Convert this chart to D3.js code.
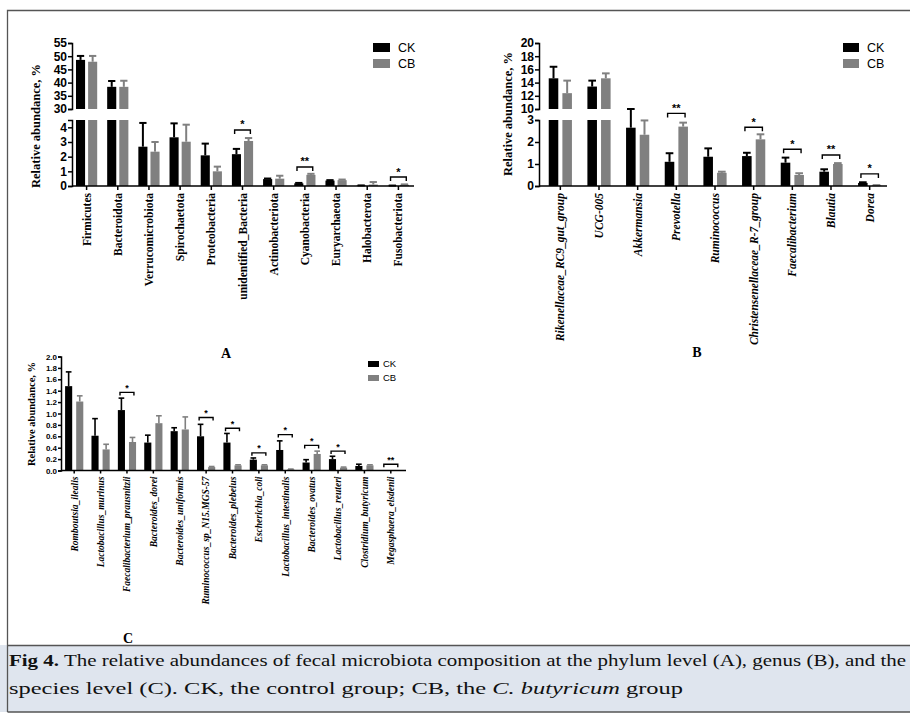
<!DOCTYPE html>
<html>
<head>
<meta charset="utf-8">
<script src="https://cdn.jsdelivr.net/npm/d3@7"></script>
<style>
body{margin:0;background:#fff;}
svg text{font-family:"Liberation Sans",Arial,sans-serif;}
svg text.serif{font-family:"Liberation Serif","Times New Roman",serif;}
</style>
</head>
<body>
<div id="chart"></div>
<script>
// A: phylum level
var phylum = ["Firmicutes","Bacteroidota","Verrucomicrobiota","Spirochaetota","Proteobacteria",
  "unidentified_Bacteria","Actinobacteriota","Cyanobacteria","Euryarchaeota","Halobacterota","Fusobacteriota"];
var phylumCK    = [48.6, 38.4, 2.68, 3.32, 2.09, 2.17, 0.47, 0.18, 0.37, 0.03, 0.02];
var phylumCKErr = [1.5, 2.2, 1.62, 0.95, 0.8, 0.36, 0.04, 0.03, 0.03, 0.01, 0.01];
var phylumCB    = [47.9, 38.4, 2.34, 3.02, 1.0, 3.07, 0.5, 0.76, 0.4, 0.1, 0.08];
var phylumCBErr = [2.2, 2.3, 0.66, 1.16, 0.32, 0.2, 0.2, 0.07, 0.04, 0.17, 0.03];
var phylumSig   = [[5, "*", 3.82], [7, "**", 1.3], [10, "*", 0.61]];

// B: genus level
var genus = ["Rikenellaceae_RC9_gut_group","UCG-005","Akkermansia","Prevotella","Ruminococcus",
  "Christensenellaceae_R-7_group","Faecalibacterium","Blautia","Dorea"];
var genusCK    = [14.65, 13.4, 2.65, 1.1, 1.33, 1.36, 1.06, 0.65, 0.14];
var genusCKErr = [1.75, 0.9, 0.38, 0.39, 0.38, 0.15, 0.23, 0.11, 0.03];
var genusCB    = [12.4, 14.65, 2.33, 2.7, 0.6, 2.12, 0.5, 1.0, 0.03];
var genusCBErr = [1.9, 0.75, 0.65, 0.18, 0.05, 0.23, 0.08, 0.04, 0.01];
var genusSig   = [[3, "**", 3.3], [5, "*", 2.67], [6, "*", 1.67], [7, "**", 1.41], [8, "*", 0.55]];

// C: species level
var species = ["Romboutsia_ilealis","Lactobacillus_murinus","Faecalibacterium_prausnitzii","Bacteroides_dorei",
  "Bacteroides_uniformis","Ruminococcus_sp_N15.MGS-57","Bacteroides_plebeius","Escherichia_coli",
  "Lactobacillus_intestinalis","Bacteroides_ovatus","Lactobacillus_reuteri","Clostridium_butyricum","Megasphaera_elsdenii"];
var speciesCK    = [1.48, 0.61, 1.06, 0.49, 0.69, 0.6, 0.49, 0.19, 0.36, 0.14, 0.2, 0.08, 0.005];
var speciesCKErr = [0.25, 0.3, 0.21, 0.13, 0.06, 0.21, 0.16, 0.03, 0.16, 0.05, 0.05, 0.03, 0];
var speciesCB    = [1.21, 0.37, 0.5, 0.83, 0.72, 0.06, 0.09, 0.09, 0.02, 0.29, 0.05, 0.09, 0.005];
var speciesCBErr = [0.1, 0.09, 0.08, 0.13, 0.22, 0.01, 0.01, 0.01, 0.005, 0.05, 0.01, 0.01, 0];
var speciesSig   = [[2, "*", 1.37], [5, "*", 0.93], [6, "*", 0.74], [7, "*", 0.31], [8, "*", 0.63],
  [9, "*", 0.44], [10, "*", 0.34], [12, "**", 0.11]];

var groups = ["CK","CB"],
    colors = {CK: "#000", CB: "#808080"};

var svg = d3.select("#chart").append("svg")
  .attr("width", 910)
  .attr("height", 720);

svg.append("rect").attr("width", 910).attr("height", 720).attr("fill", "#fff");

// frame + caption box
svg.append("rect")
  .attr("x", 0).attr("y", 645).attr("width", 910).attr("height", 67)
  .attr("fill", "#dfe5ee");
svg.append("path")
  .attr("d", "M7.5,712 V10.5 H912 M7.5,645.5 H912 M7.5,712 H912")
  .attr("fill", "none").attr("stroke", "#555").attr("stroke-width", 1.3);

function panel(o) {
  var g = svg.append("g");
  var x = d3.scaleBand().domain(o.cats).range(o.xr).paddingInner(o.pi).paddingOuter(o.po);
  var xs = d3.scaleBand().domain(groups).range([0, x.bandwidth()]).paddingInner(o.pin);
  var lo = d3.scaleLinear().domain(o.loD).range([o.y0, o.loTop]);
  var up = o.upD ? d3.scaleLinear().domain(o.upD).range([o.upBottom, o.upTop]) : null;
  var loMax = o.loD[1];

  function yOf(v) {
    return (up && v > loMax) ? up(Math.max(v, o.upD[0])) : lo(v);
  }

  // bars + error bars
  groups.forEach(function (s) {
    var vals = o.vals[s], errs = o.errs[s];
    o.cats.forEach(function (c, i) {
      var v = vals[i], e = errs[i],
          bx = x(c) + xs(s), bw = xs.bandwidth(), cx = bx + bw / 2;
      g.append("rect")
        .attr("x", bx).attr("width", bw)
        .attr("y", lo(Math.min(v, loMax)))
        .attr("height", o.y0 - lo(Math.min(v, loMax)))
        .attr("fill", colors[s]);
      if (up && v > loMax) {
        g.append("rect")
          .attr("x", bx).attr("width", bw)
          .attr("y", up(v))
          .attr("height", up(o.upD[0]) - up(v))
          .attr("fill", colors[s]);
      }
      if (e > 0) {
        var yt = yOf(v + e);
        g.append("line")
          .attr("x1", cx).attr("x2", cx)
          .attr("y1", yOf(v)).attr("y2", yt)
          .attr("stroke", colors[s]).attr("stroke-width", o.ew);
        g.append("line")
          .attr("x1", cx - bw * 0.4).attr("x2", cx + bw * 0.4)
          .attr("y1", yt).attr("y2", yt)
          .attr("stroke", colors[s]).attr("stroke-width", o.ew);
      }
    });
  });

  // significance brackets
  o.sig.forEach(function (d) {
    var c = o.cats[d[0]], by = lo(d[2]),
        xa = x(c) + xs("CK") + xs.bandwidth() * 0.3,
        xb = x(c) + xs("CB") + xs.bandwidth() * 0.7;
    g.append("path")
      .attr("d", "M" + xa + "," + (by + o.bt) + "V" + by + "H" + xb + "V" + (by + o.bt))
      .attr("fill", "none").attr("stroke", "#000").attr("stroke-width", 1.4);
    g.append("text")
      .attr("x", (xa + xb) / 2).attr("y", by - 1.5)
      .attr("text-anchor", "middle")
      .style("font-size", o.starSize + "px").style("font-weight", "bold")
      .text(d[1]);
  });

  // y axes
  var yl = g.append("g")
    .attr("transform", "translate(" + o.ax + ",0)")
    .call(d3.axisLeft(lo).tickValues(o.loTicks).tickFormat(o.fmt).tickSize(o.ts).tickSizeOuter(o.ts));
  var yu = null;
  if (up) {
    yu = g.append("g")
      .attr("transform", "translate(" + o.ax + ",0)")
      .call(d3.axisLeft(up).tickValues(o.upTicks).tickFormat(o.fmt).tickSize(o.ts).tickSizeOuter(o.ts));
  }
  [yl, yu].forEach(function (a) {
    if (!a) return;
    a.selectAll("path,line").attr("stroke", "#000").attr("stroke-width", 1.5);
    a.selectAll("text")
      .attr("x", -o.ts - 1)
      .style("font-size", o.tickSize + "px").style("font-weight", "bold")
      .style("font-family", "'Liberation Sans',Arial,sans-serif").attr("fill", "#000");
    a.select(".domain").attr("fill", "none");
  });

  // x axis
  var xa = g.append("g")
    .attr("transform", "translate(0," + o.y0 + ")")
    .call(d3.axisBottom(x).tickSize(o.ts).tickSizeOuter(0));
  xa.select(".domain").remove();
  g.append("line")
    .attr("x1", o.ax).attr("x2", o.xEnd)
    .attr("y1", o.y0).attr("y2", o.y0)
    .attr("stroke", "#000").attr("stroke-width", 1.5);
  xa.selectAll("line").attr("stroke", "#000").attr("stroke-width", 1.5);
  xa.selectAll("text")
    .attr("class", "serif")
    .attr("transform", "rotate(-90)")
    .attr("x", -o.ts - 3).attr("y", 0).attr("dy", "0.35em")
    .attr("text-anchor", "end")
    .attr("fill", "#000")
    .style("font-weight", "bold")
    .style("font-style", o.italic ? "italic" : "normal")
    .style("font-size", o.labelSize + "px");

  // y title
  g.append("text")
    .attr("class", "serif")
    .attr("transform", "translate(" + o.title[0] + "," + o.title[1] + ") rotate(-90)")
    .attr("text-anchor", "middle")
    .attr("dy", "0.35em")
    .style("font-weight", "bold")
    .style("font-size", o.titleSize + "px")
    .text("Relative abundance, %");

  // legend
  groups.forEach(function (s, i) {
    g.append("rect")
      .attr("x", o.leg[0]).attr("y", o.leg[1] + i * o.leg[4])
      .attr("width", o.leg[2]).attr("height", o.leg[3])
      .attr("fill", colors[s]);
    g.append("text")
      .attr("x", o.leg[0] + o.leg[2] + o.leg[5])
      .attr("y", o.leg[1] + i * o.leg[4] + o.leg[3] / 2)
      .attr("dy", "0.36em")
      .style("font-size", o.legSize + "px")
      .text(s);
  });

  // panel letter
  g.append("text")
    .attr("class", "serif")
    .attr("x", o.letter[0]).attr("y", o.letter[1])
    .attr("text-anchor", "middle")
    .style("font-weight", "bold").style("font-size", "14px")
    .text(o.letter[2]);
}

panel({
  cats: phylum, vals: {CK: phylumCK, CB: phylumCB}, errs: {CK: phylumCKErr, CB: phylumCBErr}, sig: phylumSig,
  xr: [71, 414], pi: 0.32, po: 0.16, pin: 0.25, ax: 72, xEnd: 414,
  y0: 186, loD: [0, 4.5], loTop: 120, loTicks: [0, 1, 2, 3, 4],
  upD: [30, 55], upBottom: 109, upTop: 43, upTicks: [30, 35, 40, 45, 50, 55],
  fmt: d3.format("d"), ts: 4, tickSize: 12, labelSize: 11.5, italic: false, ew: 2,
  bt: 4, starSize: 11, title: [36, 126], titleSize: 12.5,
  leg: [373, 43, 17, 9, 16, 8], legSize: 12.5, letter: [226, 358, "A"]
});

panel({
  cats: genus, vals: {CK: genusCK, CB: genusCB}, errs: {CK: genusCKErr, CB: genusCBErr}, sig: genusSig,
  xr: [541, 889], pi: 0.4, po: 0.2, pin: 0.3, ax: 539, xEnd: 887,
  y0: 186, loD: [0, 3], loTop: 120, loTicks: [0, 1, 2, 3],
  upD: [10, 20], upBottom: 109, upTop: 43, upTicks: [10, 12, 14, 16, 18, 20],
  fmt: d3.format("d"), ts: 4, tickSize: 12, labelSize: 11.5, italic: true, ew: 2,
  bt: 4, starSize: 11, title: [508, 114], titleSize: 12.5,
  leg: [843, 43, 16, 9, 16, 8], legSize: 12.5, letter: [697, 357, "B"]
});

panel({
  cats: species, vals: {CK: speciesCK, CB: speciesCB}, errs: {CK: speciesCKErr, CB: speciesCBErr}, sig: speciesSig,
  xr: [61, 404], pi: 0.31, po: 0.155, pin: 0.36, ax: 61, xEnd: 406,
  y0: 470.5, loD: [0, 2], loTop: 356.5, loTicks: d3.range(0, 2.01, 0.2),
  fmt: d3.format(".1f"), ts: 3, tickSize: 8, labelSize: 9.5, italic: true, ew: 1.6,
  bt: 3, starSize: 9, title: [31, 414], titleSize: 10.5,
  leg: [368, 361, 11, 6, 14, 4], legSize: 9.5, letter: [128, 643, "C"]
});

// caption
var l1 = svg.append("text").attr("class", "serif")
  .attr("x", 9).attr("y", 666).attr("fill", "#111")
  .style("font-size", "17.5px")
  .attr("textLength", 897).attr("lengthAdjust", "spacingAndGlyphs");
l1.append("tspan").style("font-weight", "bold").text("Fig 4.");
l1.append("tspan").text(" The relative abundances of fecal microbiota composition at the phylum level (A), genus (B), and the");
var l2 = svg.append("text").attr("class", "serif")
  .attr("x", 9).attr("y", 694).attr("fill", "#111")
  .style("font-size", "17.5px")
  .attr("textLength", 674).attr("lengthAdjust", "spacingAndGlyphs");
l2.append("tspan").text("species level (C). CK, the control group; CB, the ");
l2.append("tspan").style("font-style", "italic").text("C. butyricum");
l2.append("tspan").text(" group");
</script>
</body>
</html>
